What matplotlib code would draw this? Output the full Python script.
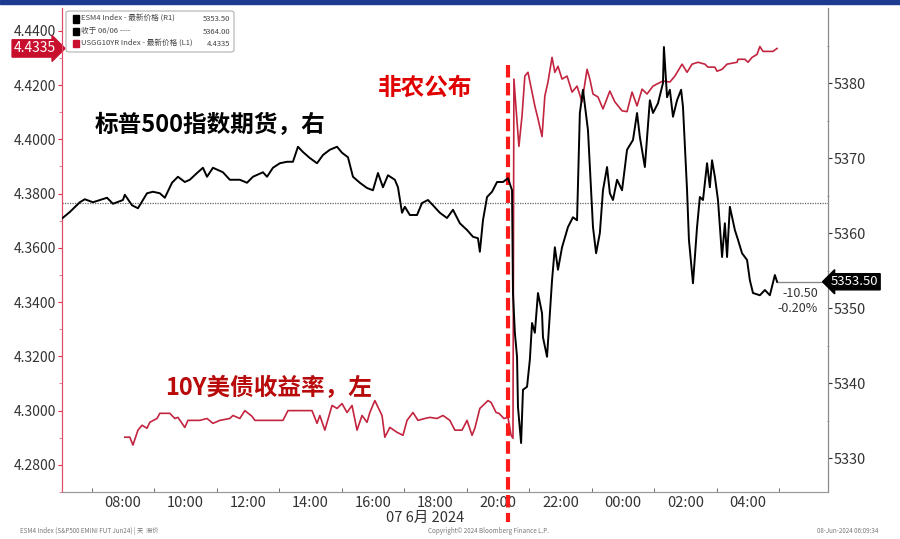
import numpy as np
import matplotlib
matplotlib.use('Agg')
import matplotlib.pyplot as plt
from matplotlib.patches import Rectangle, FancyBboxPatch
import matplotlib.transforms as mtrans

plt.rcParams['font.family'] = ['Noto Sans CJK SC', 'DejaVu Sans']

# S&P500 futures (right axis), hours since 00:00 Jun 7 (Beijing time)
es_hour = [6.04, 6.30, 6.62, 6.78, 7.04, 7.49, 7.68, 8.00, 8.06, 8.29, 8.48, 8.77, 8.96, 9.18, 9.34,
           9.57, 9.76, 9.98, 10.14, 10.37, 10.56, 10.69, 10.88, 11.20, 11.42, 11.74, 11.97, 12.16,
           12.48, 12.61, 12.80, 13.02, 13.25, 13.44, 13.60, 13.76, 13.98, 14.21, 14.40, 14.62,
           14.85, 15.01, 15.20, 15.36, 15.58, 15.81, 16.00, 16.16, 16.32, 16.48, 16.70, 16.80,
           16.93, 17.02, 17.18, 17.41, 17.57, 17.76, 17.92, 18.14, 18.37, 18.56, 18.78, 19.01,
           19.20, 19.36, 19.42, 19.52, 19.65, 19.81, 19.97, 20.16, 20.32, 20.45, 20.48, 20.54,
           20.61, 20.64, 20.74, 20.80, 20.93, 21.02, 21.09, 21.18, 21.28, 21.41, 21.44, 21.57,
           21.73, 21.82, 21.92, 22.05, 22.24, 22.40, 22.53, 22.62, 22.72, 22.88, 23.04, 23.14,
           23.26, 23.36, 23.49, 23.58, 23.68, 23.81, 23.97, 24.13, 24.32, 24.45, 24.54, 24.70,
           24.86, 24.96, 25.12, 25.28, 25.31, 25.41, 25.50, 25.60, 25.73, 25.86, 25.92, 26.05,
           26.11, 26.24, 26.37, 26.46, 26.56, 26.69, 26.78, 26.85, 26.94, 27.04, 27.17, 27.26,
           27.33, 27.42, 27.58, 27.68, 27.81, 27.97, 28.06, 28.16, 28.38, 28.54, 28.70, 28.86, 28.93]
es_price = [5361.9, 5362.8, 5364.1, 5364.5, 5364.1, 5364.7, 5363.9, 5364.4, 5365.1, 5363.7, 5363.3,
            5365.3, 5365.5, 5365.3, 5364.7, 5366.7, 5367.5, 5366.8, 5367.1, 5368.0, 5368.7, 5367.5,
            5368.7, 5368.1, 5367.1, 5367.1, 5366.7, 5367.5, 5368.1, 5367.5, 5368.7, 5369.3, 5369.5,
            5369.5, 5371.5, 5370.8, 5370.0, 5369.3, 5370.4, 5371.1, 5371.5, 5370.7, 5370.1, 5367.5,
            5366.7, 5366.0, 5365.7, 5368.0, 5366.1, 5367.7, 5367.1, 5366.1, 5362.7, 5363.5, 5362.4,
            5362.4, 5364.0, 5364.4, 5363.7, 5362.7, 5362.0, 5363.1, 5361.3, 5360.4, 5359.5, 5359.3,
            5357.5, 5361.7, 5364.8, 5365.5, 5366.8, 5366.8, 5367.3, 5365.7, 5352.0, 5346.7, 5343.5,
            5336.8, 5332.0, 5339.1, 5339.5, 5343.1, 5348.0, 5346.7, 5352.0, 5349.3, 5346.1, 5343.5,
            5353.7, 5358.1, 5355.1, 5358.1, 5360.8, 5362.1, 5361.7, 5376.0, 5379.1, 5373.7, 5360.8,
            5357.3, 5360.0, 5365.7, 5368.8, 5365.3, 5364.4, 5367.1, 5365.7, 5371.1, 5372.4, 5376.0,
            5372.8, 5368.8, 5377.7, 5376.0, 5377.3, 5380.0, 5384.8, 5378.1, 5379.1, 5375.5, 5377.7,
            5379.1, 5376.8, 5365.7, 5359.1, 5353.3, 5360.8, 5364.8, 5364.4, 5369.3, 5366.1, 5369.7,
            5367.5, 5364.4, 5356.8, 5361.3, 5356.8, 5363.5, 5360.4, 5359.1, 5357.3, 5356.4, 5353.7,
            5352.0, 5351.7, 5352.4, 5351.7, 5354.4, 5353.5]

# US 10Y yield (left axis)
yld_hour = [8.06, 8.22, 8.32, 8.48, 8.61, 8.77, 8.86, 9.09, 9.18, 9.50, 9.66, 9.76, 9.98, 10.08,
            10.46, 10.69, 10.88, 11.10, 11.42, 11.52, 11.74, 11.90, 12.13, 12.22, 13.12, 13.28,
            14.05, 14.21, 14.30, 14.46, 14.69, 14.85, 15.01, 15.17, 15.33, 15.49, 15.65, 15.81,
            15.90, 16.06, 16.29, 16.38, 16.54, 16.77, 16.96, 17.09, 17.28, 17.44, 17.66, 17.82,
            18.05, 18.24, 18.46, 18.62, 18.85, 19.01, 19.17, 19.26, 19.42, 19.68, 19.78, 19.94,
            20.03, 20.19, 20.32, 20.42, 20.48, 20.51, 20.61, 20.67, 20.77, 20.86, 20.96, 21.09,
            21.18, 21.28, 21.41, 21.50, 21.60, 21.73, 21.82, 21.92, 22.05, 22.21, 22.37, 22.53,
            22.69, 22.85, 22.94, 23.04, 23.20, 23.36, 23.58, 23.74, 23.97, 24.13, 24.29, 24.45,
            24.61, 24.77, 24.96, 25.09, 25.28, 25.50, 25.66, 25.89, 26.05, 26.21, 26.40, 26.62,
            26.72, 26.94, 27.01, 27.17, 27.33, 27.65, 27.68, 27.90, 28.00, 28.13, 28.29, 28.38,
            28.48, 28.80, 28.93]
yld = [4.2902, 4.2902, 4.2873, 4.2928, 4.2946, 4.2935, 4.2957, 4.2971, 4.2990, 4.2990, 4.2971,
       4.2975, 4.2938, 4.2964, 4.2964, 4.2971, 4.2953, 4.2964, 4.2971, 4.2982, 4.2971, 4.3000,
       4.2979, 4.2964, 4.2964, 4.3000, 4.3000, 4.2953, 4.2982, 4.2928, 4.3019, 4.3008, 4.3026,
       4.2993, 4.3019, 4.2928, 4.2982, 4.2957, 4.2993, 4.3037, 4.2982, 4.2902, 4.2938, 4.2920,
       4.2909, 4.2964, 4.2993, 4.2964, 4.2971, 4.2975, 4.2971, 4.2982, 4.2964, 4.2928, 4.2928,
       4.2964, 4.2909, 4.2935, 4.3008, 4.3037, 4.3030, 4.2993, 4.2990, 4.2971, 4.2975, 4.2909,
       4.2898, 4.4222, 4.4065, 4.3974, 4.4087, 4.4233, 4.4247, 4.4174, 4.4123, 4.4076, 4.4010,
       4.4160, 4.4211, 4.4302, 4.4247, 4.4269, 4.4222, 4.4233, 4.4174, 4.4196, 4.4138, 4.4258,
       4.4222, 4.4167, 4.4156, 4.4112, 4.4178, 4.4138, 4.4105, 4.4102, 4.4174, 4.4123, 4.4185,
       4.4167, 4.4196, 4.4204, 4.4215, 4.4211, 4.4233, 4.4277, 4.4247, 4.4277, 4.4284, 4.4277,
       4.4266, 4.4266, 4.4251, 4.4258, 4.4277, 4.4284, 4.4295, 4.4295, 4.4284, 4.4302, 4.4313,
       4.4342, 4.4324, 4.4324, 4.4335]

xtick_hours = [8, 10, 12, 14, 16, 18, 20, 22, 24, 26, 28]
xtick_labels = ['08:00', '10:00', '12:00', '14:00', '16:00', '18:00', '20:00', '22:00', '00:00', '02:00', '04:00']
prev_close = 5364.00
last_es = 5353.50
last_yld = 4.4335
nfp_hour = 20.32

fig = plt.figure(figsize=(9, 5.39), dpi=100)
ax = fig.add_axes([62/900, 47/539, 766/900, 484/539])
ax2 = ax.twinx()

# top blue band
fig.patches.append(Rectangle((0, 1 - 4/539), 1, 4/539, transform=fig.transFigure, color='#1c3b8f', zorder=0))

ax2.plot(es_hour, es_price, color='black', lw=1.4, zorder=3)
ax.plot(yld_hour, yld, color='#c3243f', lw=1.2, zorder=3)
ax2.axhline(prev_close, color='#666666', ls=(0, (1, 1)), lw=0.9, zorder=1)
ax2.plot([es_hour[-1], 30.56], [last_es, last_es], color='#8a8a8a', lw=1, zorder=2)

ax.set_xlim(6.05, 30.56)
ax.set_ylim(4.272, 4.4484)
ax2.set_ylim(5325.47, 5390)

ax.set_xticks(xtick_hours)
ax.set_xticklabels(xtick_labels)
ax.set_xticks([7, 9, 11, 13, 15, 17, 19, 21, 23, 24, 25, 27, 29], minor=True)
ax.tick_params(axis='x', which='major', length=0, labelsize=10.5, colors='#333333', pad=3)
ax.tick_params(axis='x', which='minor', length=3, direction='in', color='#555555')

ax.set_yticks(np.arange(4.28, 4.441, 0.02))
ax.set_yticks(np.arange(4.27, 4.445, 0.01), minor=True)
ax.yaxis.set_major_formatter(matplotlib.ticker.FormatStrFormatter('%.4f'))
ax.tick_params(axis='y', which='major', length=3, color='#d9304f', labelsize=10, labelcolor='#333333', pad=1)
ax.tick_params(axis='y', which='minor', length=2, color='#e07080')

ax2.set_yticks(np.arange(5330, 5381, 10))
ax2.set_yticks(np.arange(5335, 5390, 10), minor=True)
ax2.tick_params(axis='y', which='major', length=3, color='#333333', labelsize=10.5, labelcolor='#333333', pad=1)
ax2.tick_params(axis='y', which='minor', length=2, direction='inout', color='#888888')

for a in [ax, ax2]:
    a.spines['top'].set_visible(False)
    a.spines['bottom'].set_color('#9a9a9a')
    a.spines['right'].set_color('#8a8a8a')
    a.spines['left'].set_color('#e04c66')

# NFP dashed line
trans = ax.get_xaxis_transform()
ax.plot([nfp_hour, nfp_hour], [0.882, -0.062], transform=trans, color='#ff1a1a', lw=3,
        ls=(0, (3, 1.3)), clip_on=False, zorder=5)

# annotations
cjk = ['Noto Sans CJK SC', 'DejaVu Sans']
fig.text(95/900, 1 - 125/539, '标普500指数期货，右', family=cjk, fontsize=17, fontweight='bold', color='black', va='center')
fig.text(378/900, 1 - 88/539, '非农公布', family=cjk, fontsize=17, fontweight='bold', color='#e00000', va='center')
fig.text(165/900, 1 - 388/539, '10Y美债收益率，左', family=cjk, fontsize=17, fontweight='bold', color='#b80a0a', va='center')

# last value tags
ax2.text(1.004, last_es, '%.2f' % last_es, transform=mtrans.blended_transform_factory(ax2.transAxes, ax2.transData),
         ha='left', va='center', fontsize=9.5, color='white',
         bbox=dict(boxstyle='larrow,pad=0.12', fc='black', ec='black'))
ax.text(-0.008, last_yld, '%.4f' % last_yld, transform=mtrans.blended_transform_factory(ax.transAxes, ax.transData),
        ha='right', va='center', fontsize=10, color='white',
        bbox=dict(boxstyle='rarrow,pad=0.12', fc='#c8102e', ec='#c8102e'))
ax2.text(30.24, 5352.0, '-10.50', ha='right', va='center', fontsize=9, color='#333333')
ax2.text(30.24, 5349.9, '-0.20%', ha='right', va='center', fontsize=9, color='#333333')

# legend box
fig.patches.append(FancyBboxPatch((66/900, 1 - 52/539), 168/900, 41/539, boxstyle='round,pad=0,rounding_size=0.004',
                                  transform=fig.transFigure, fc='white', ec='#b0b0b0', lw=0.8, zorder=6))
leg_rows = [('ESM4 Index - 最新价格 (R1)', '5353.50', 'black'),
            ('收于 06/06 ----', '5364.00', 'black'),
            ('USGG10YR Index - 最新价格 (L1)', '4.4335', '#c8102e')]
for i, (lab, val, col) in enumerate(leg_rows):
    yy = 1 - (19 + i * 12.5) / 539
    fig.patches.append(Rectangle((73/900, yy - 3.5/539), 6/900, 7/539, transform=fig.transFigure, color=col, zorder=7))
    fig.text(81/900, yy, lab, fontsize=5.5, color='#444444', va='center', zorder=7)
    fig.text(230/900, yy, val, fontsize=5.5, color='#444444', va='center', ha='right', zorder=7)

# footer
fig.text(425/900, 1 - 518/539, '07 6月 2024', fontsize=10.5, color='#333333', ha='center', va='center')
fig.text(20/900, 1 - 531/539, 'ESM4 Index (S&P500 EMINI FUT Jun24) | 天  滞价', fontsize=4.5, color='#777777', va='center')
fig.text(428/900, 1 - 531/539, 'Copyright\u00a9 2024 Bloomberg Finance L.P.', fontsize=4.5, color='#777777', va='center')
fig.text(878/900, 1 - 531/539, '08-Jun-2024 06:09:34', fontsize=4.5, color='#777777', va='center', ha='right')

fig.savefig('out.png', dpi=100)
